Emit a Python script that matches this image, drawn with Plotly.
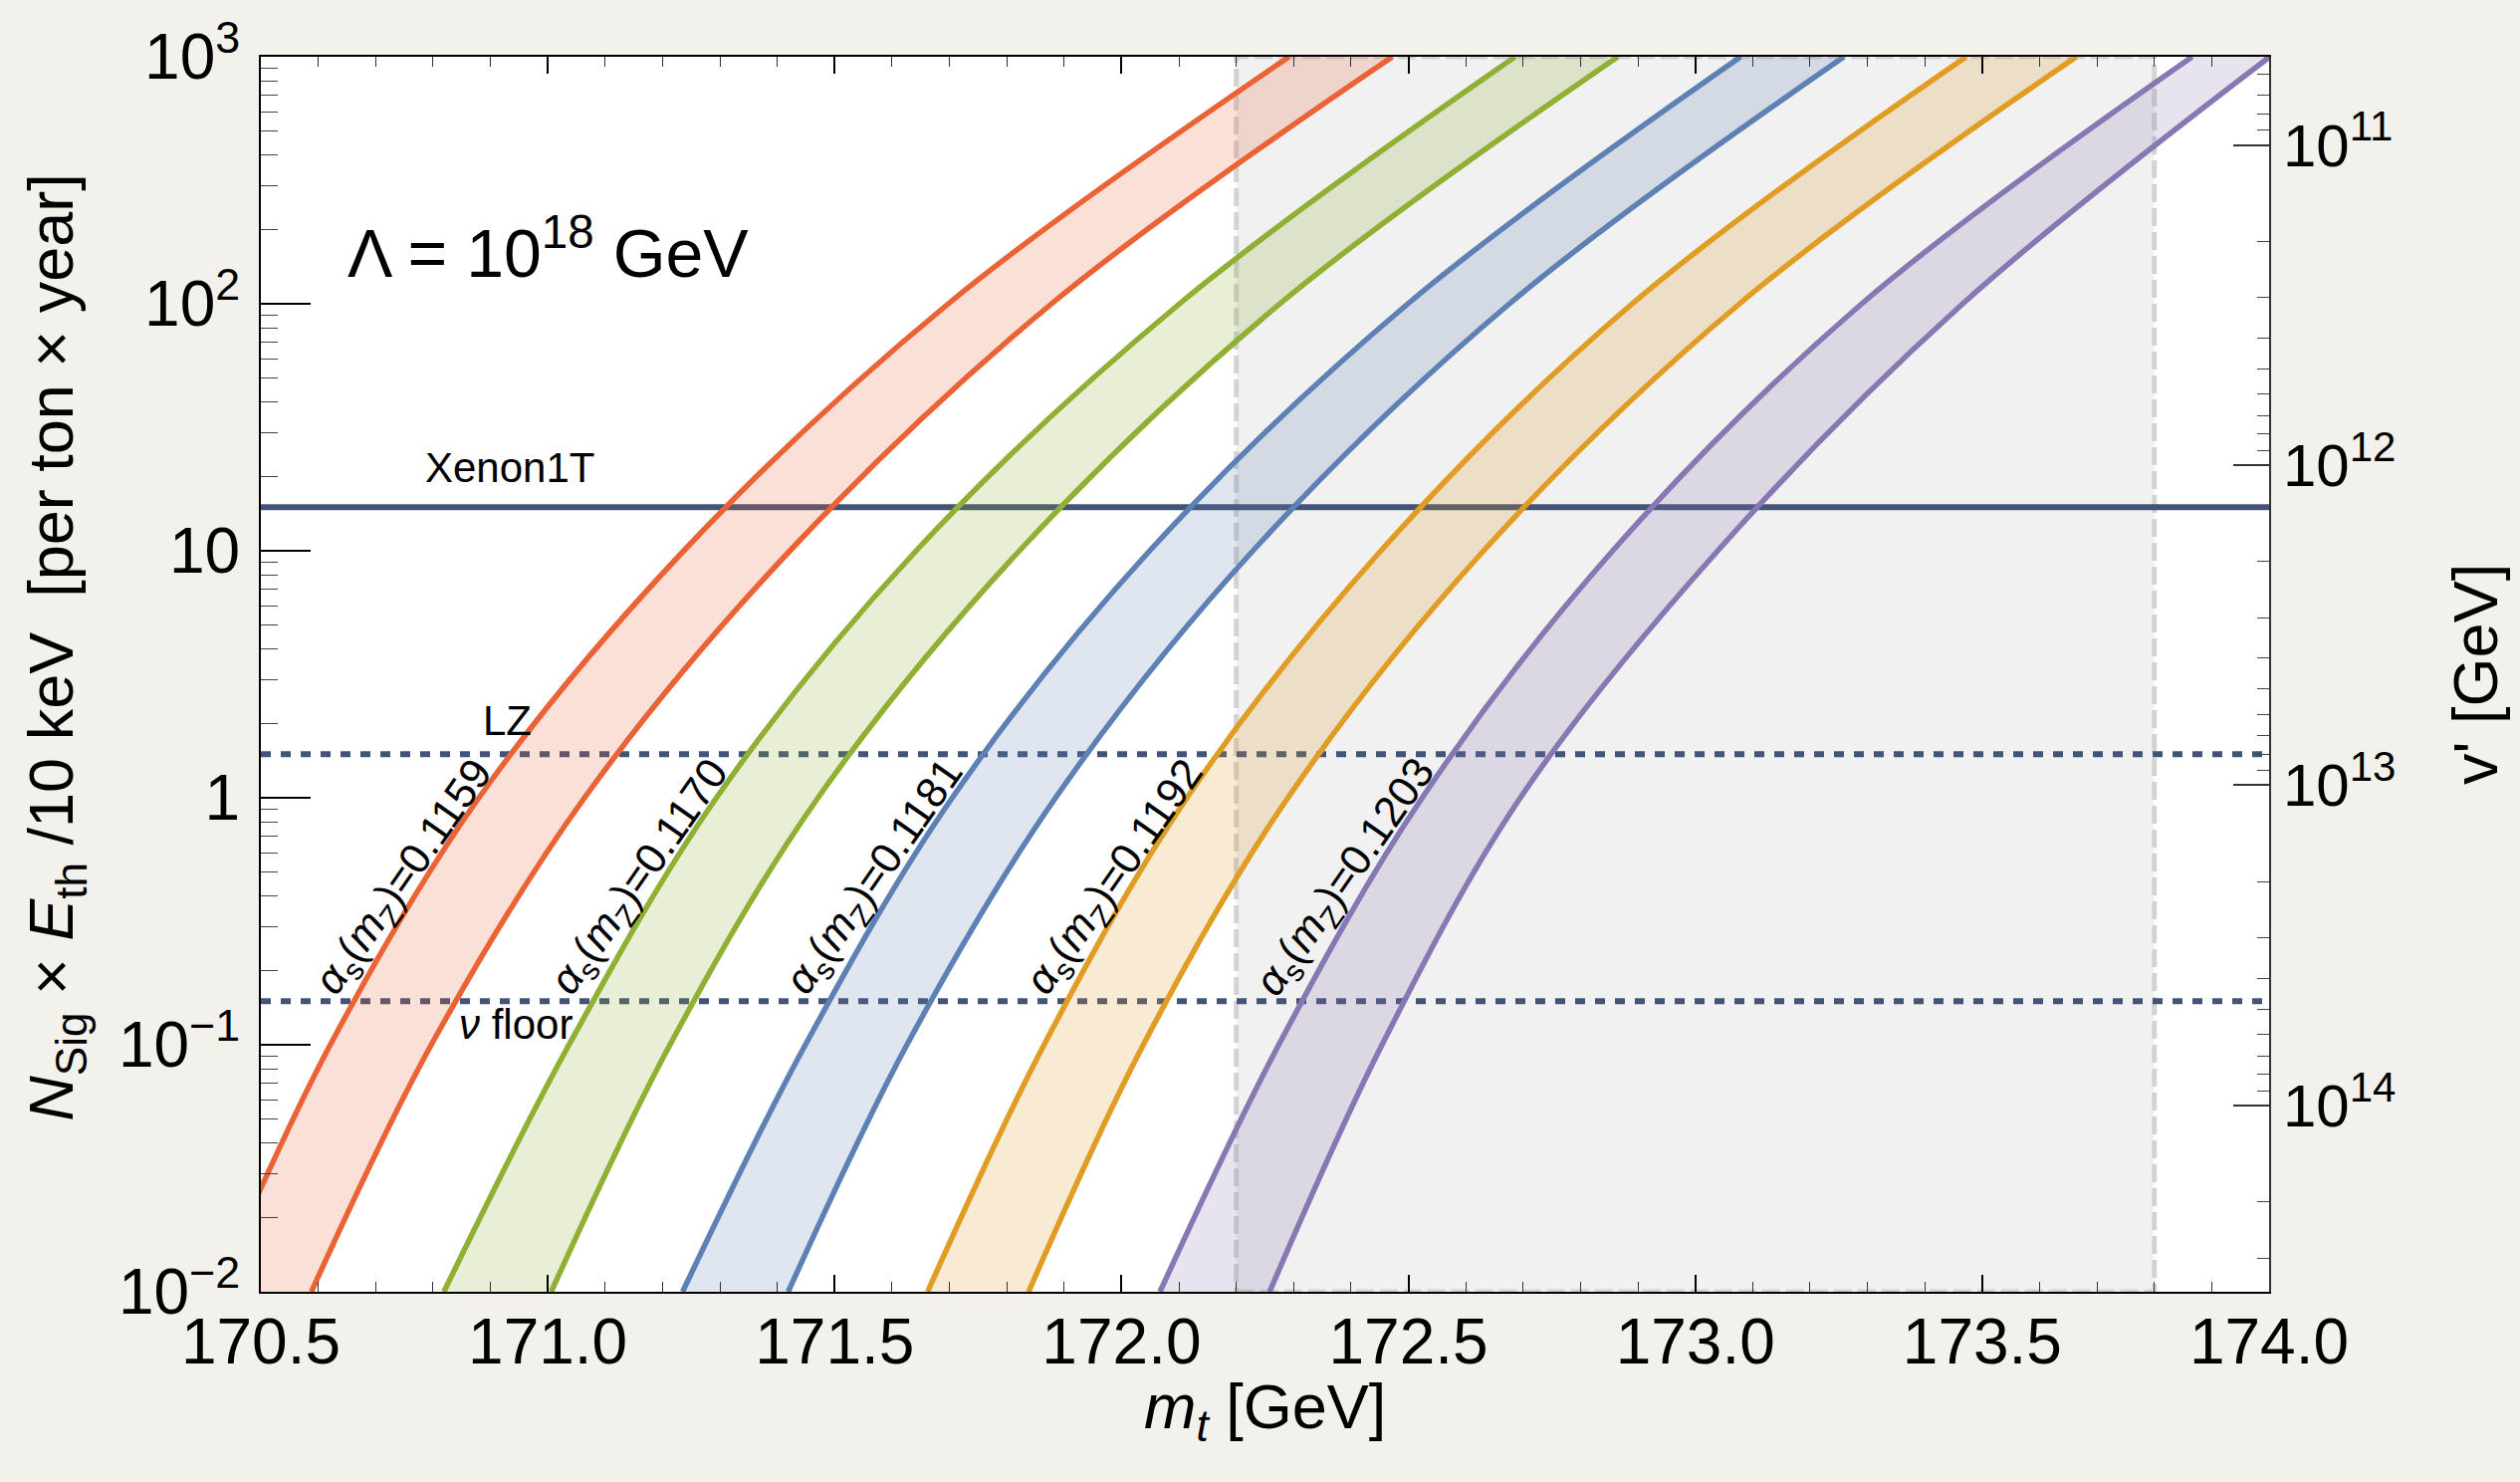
import math
import plotly.graph_objects as go

# ---------------- data ----------------
N_levels = [0.01, 0.1, 1, 10, 100, 1000]          # N_Sig x E_th / 10 keV levels
alpha_values = ["0.1159", "0.1170", "0.1181", "0.1192", "0.1203"]

# m_t [GeV] where the upper-left / lower-right band edges cross each N level
red_upper = [170.42, 170.621, 170.880, 171.237, 171.698, 172.292]
red_lower = [170.588, 170.797, 171.064, 171.422, 171.878, 172.472]
green_upper = [170.819, 171.037, 171.294, 171.642, 172.101, 172.686]
green_lower = [171.006, 171.213, 171.471, 171.822, 172.276, 172.865]
blue_upper = [171.235, 171.449, 171.705, 172.049, 172.499, 173.079]
blue_lower = [171.419, 171.626, 171.885, 172.229, 172.676, 173.259]
orange_upper = [171.662, 171.865, 172.114, 172.452, 172.890, 173.472]
orange_lower = [171.838, 172.038, 172.290, 172.631, 173.077, 173.664]
purple_upper = [172.067, 172.274, 172.524, 172.856, 173.290, 173.866]
purple_lower = [172.258, 172.454, 172.695, 173.039, 173.466, 174.001]

# experimental reach lines
xenon1t_level = 15.0
lz_level = 1.5
nu_floor_level = 0.15

# shaded m_t window
mt_window = [172.2, 173.8]

# label anchor points (m_t, N) for the rotated alpha_s labels
alpha_label_mt = [170.752, 171.163, 171.572, 171.991, 172.393]
alpha_label_N = 0.474

x_ticks = [170.5, 171.0, 171.5, 172.0, 172.5, 173.0, 173.5, 174.0]
y_ticks = [0.01, 0.1, 1, 10, 100, 1000]
y_ticktext = ["10<sup>−2</sup>", "10<sup>−1</sup>", "1", "10", "10<sup>2</sup>", "10<sup>3</sup>"]
v_ticks = [1e11, 1e12, 1e13, 1e14]
v_ticktext = ["10<sup>11</sup>", "10<sup>12</sup>", "10<sup>13</sup>", "10<sup>14</sup>"]

# ---------------- styling ----------------
FONT = "Liberation Sans, Arial, Helvetica, sans-serif"
line_col = "#42547A"
bands = [
    (red_upper, red_lower, "#EB6235", "rgba(235,98,53,0.2)"),
    (green_upper, green_lower, "#8FB032", "rgba(143,176,50,0.2)"),
    (blue_upper, blue_lower, "#5E81B5", "rgba(94,129,181,0.2)"),
    (orange_upper, orange_lower, "#E19C24", "rgba(225,156,36,0.2)"),
    (purple_upper, purple_lower, "#8778B3", "rgba(135,120,179,0.2)"),
]

fig = go.Figure()

# horizontal reach lines
xr = [x_ticks[0], x_ticks[-1]]
fig.add_trace(go.Scatter(x=xr, y=[xenon1t_level] * 2, mode="lines",
                         line=dict(color=line_col, width=6), hoverinfo="skip"))
for lvl in (lz_level, nu_floor_level):
    fig.add_trace(go.Scatter(x=xr, y=[lvl] * 2, mode="lines",
                             line=dict(color=line_col, width=6, dash="10px,10px"),
                             hoverinfo="skip"))

# bands
for up, lo, col, fcol in bands:
    fig.add_trace(go.Scatter(x=up, y=N_levels, mode="lines", line_shape="spline",
                             line=dict(color=col, width=5.5), hoverinfo="skip"))
    fig.add_trace(go.Scatter(x=lo, y=N_levels, mode="lines", line_shape="spline",
                             line=dict(color=col, width=5.5), fill="tonextx",
                             fillcolor=fcol, hoverinfo="skip"))

# invisible trace on the right axis so it is drawn
fig.add_trace(go.Scatter(x=[171.0], y=[1e12], yaxis="y2", mode="markers",
                         marker=dict(opacity=0), hoverinfo="skip"))

# shaded window
fig.add_shape(type="rect", xref="x", yref="y", x0=mt_window[0], x1=mt_window[1],
              y0=y_ticks[0], y1=y_ticks[-1], fillcolor="#F1F1F1",
              line=dict(color="#D3D3D3", width=5, dash="18px,6px"), layer="below")

# annotations
ann = []
ann.append(dict(x=170.647, y=2.226, xref="x", yref="y", xanchor="left", yanchor="middle",
                text="Λ = 10<sup>18</sup> GeV", showarrow=False,
                font=dict(family=FONT, size=68, color="black")))
ann.append(dict(x=170.934, y=1.336, xref="x", yref="y", xanchor="center", yanchor="middle",
                text="Xenon1T", showarrow=False,
                font=dict(family=FONT, size=42, color="black")))
ann.append(dict(x=170.930, y=0.314, xref="x", yref="y", xanchor="center", yanchor="middle",
                text="LZ", showarrow=False,
                font=dict(family=FONT, size=42, color="black")))
ann.append(dict(x=170.944, y=-0.917, xref="x", yref="y", xanchor="center", yanchor="middle",
                text="<i>ν</i> floor", showarrow=False,
                font=dict(family=FONT, size=42, color="black")))
for mt, a in zip(alpha_label_mt, alpha_values):
    ann.append(dict(x=mt, y=math.log10(alpha_label_N), xref="x", yref="y",
                    xanchor="center", yanchor="middle",
                    text="<i>α</i><sub>s</sub>(<i>m</i><sub>Z</sub>)=" + a,
                    textangle=-55, showarrow=False,
                    font=dict(family=FONT, size=43, color="black")))
# axis titles
ann.append(dict(x=-0.1021, y=0.522, xref="paper", yref="paper", textangle=-90,
                xanchor="center", yanchor="middle",
                text="<i>N</i><sub>Sig</sub> × <i>E</i><sub>th</sub> /10 keV  [per ton × year]",
                showarrow=False, font=dict(family=FONT, size=63, color="black")))
ann.append(dict(x=0.5, y=-0.0962, xref="paper", yref="paper",
                xanchor="center", yanchor="middle",
                text="<i>m<sub>t</sub></i> [GeV]", showarrow=False,
                font=dict(family=FONT, size=63, color="black")))
ann.append(dict(x=1.1026, y=0.5, xref="paper", yref="paper", textangle=-90,
                xanchor="center", yanchor="middle",
                text="v' [GeV]", showarrow=False,
                font=dict(family=FONT, size=63, color="black")))

minor_left = [k * 10.0 ** e for e in range(-2, 3) for k in range(2, 10)]
minor_right = [k * 10.0 ** e for e in range(10, 15) for k in range(2, 10)]

fig.update_layout(
    width=2531, height=1488,
    margin=dict(l=262, r=252, t=50, b=191),
    paper_bgcolor="#F3F1EC", plot_bgcolor="white",
    showlegend=False,
    annotations=ann,
    font=dict(family=FONT, color="black"),
    xaxis=dict(range=[170.5, 174.0], tickmode="array", tickvals=x_ticks,
               ticktext=[f"{v:.1f}" for v in x_ticks],
               ticks="inside", ticklen=17, tickwidth=1.5, tickcolor="black",
               minor=dict(dtick=0.1, tick0=170.5, ticks="inside", ticklen=10,
                          tickwidth=1.2, tickcolor="#333", showgrid=False),
               showline=True, linecolor="black", linewidth=2, mirror="ticks",
               showgrid=False, zeroline=False, ticklabelstandoff=-7,
               tickfont=dict(family=FONT, size=64, color="black")),
    yaxis=dict(type="log", range=[-2, 3], tickmode="array", tickvals=y_ticks,
               ticktext=y_ticktext, ticks="inside", ticklen=50, tickwidth=1.5,
               tickcolor="black",
               minor=dict(tickmode="array", tickvals=minor_left, ticks="inside",
                          ticklen=17, tickwidth=1.2, tickcolor="#444", showgrid=False),
               showline=True, linecolor="black", linewidth=2, mirror=True,
               showgrid=False, zeroline=False, ticklabelstandoff=6,
               tickfont=dict(family=FONT, size=64, color="black")),
    yaxis2=dict(type="log", overlaying="y", side="right", range=[14.582, 10.7245],
                tickmode="array", tickvals=v_ticks, ticktext=v_ticktext,
                ticks="inside", ticklen=36, tickwidth=1.5, tickcolor="#333",
                minor=dict(tickmode="array", tickvals=minor_right, ticks="inside",
                           ticklen=12, tickwidth=1.2, tickcolor="#444", showgrid=False),
                showline=True, linecolor="#333", linewidth=2,
                showgrid=False, zeroline=False, ticklabelstandoff=0,
                tickfont=dict(family=FONT, size=60, color="black")),
)

fig.write_html("out.html", config={"displayModeBar": False},
               post_script="document.body.style.margin='0px';")
